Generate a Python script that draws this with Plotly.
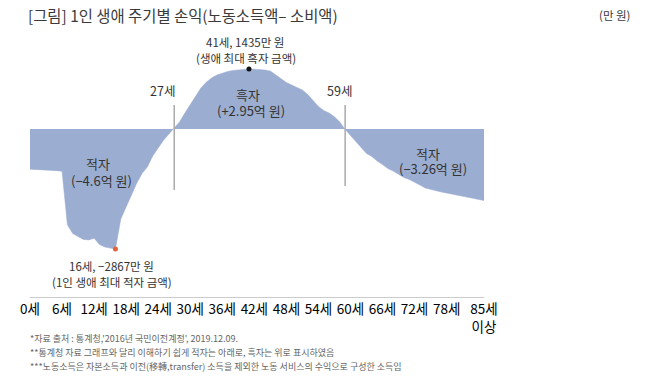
import plotly.graph_objects as go

# ---- data (만 원) ----
ages = list(range(0, 86))
net_income = [
    -960, -965, -970, -975, -985, -995, -1010, -2290, -2500, -2580,
    -2640, -2650, -2610, -2760, -2820, -2845, -2867, -2150, -1860, -1540,
    -1290, -1060, -900, -640, -440, -270, -120, 20, 170, 380,
    570, 790, 980, 1120, 1220, 1290, 1340, 1375, 1400, 1415,
    1425, 1435, 1430, 1425, 1410, 1385, 1290, 1195, 1110, 1050,
    990, 930, 825, 670, 540, 440, 380, 290, 170, -10,
    -155, -320, -455, -585, -655, -765, -850, -945, -1005, -1090,
    -1160, -1205, -1265, -1340, -1410, -1445, -1480, -1505, -1530, -1555,
    -1575, -1600, -1625, -1650, -1675, -1710,
]
tick_ages = [0, 6, 12, 18, 24, 30, 36, 42, 48, 54, 60, 66, 72, 78, 85]
tick_labels = ["0세", "6세", "12세", "18세", "24세", "30세", "36세", "42세", "48세",
               "54세", "60세", "66세", "72세", "78세", "85세<br>이상"]
max_age, max_val = 41, 1435
min_age, min_val = 16, -2867
cross_ages = [27, 59]

FONT = "Noto Sans CJK KR"
AREA = "#9badd0"

W, H = 650, 376
L, R, T, B = 30, 166, 60, 79
PW, PH = W - L - R, H - T - B

fig = go.Figure()
fig.add_trace(go.Scatter(x=ages, y=net_income, mode="lines", fill="tozeroy",
                         line=dict(color=AREA, width=0.5), fillcolor=AREA,
                         hoverinfo="skip", showlegend=False))
fig.add_trace(go.Scatter(x=[max_age], y=[max_val], mode="markers",
                         marker=dict(color="#111111", size=5), showlegend=False))
fig.add_trace(go.Scatter(x=[min_age], y=[min_val], mode="markers",
                         marker=dict(color="#e2623c", size=5), showlegend=False))

shapes = [
    dict(type="line", xref="x", yref="y", x0=cross_ages[0], x1=cross_ages[0],
         y0=-1460, y1=574, line=dict(color="#aaaaaa", width=1.5)),
    dict(type="line", xref="x", yref="y", x0=cross_ages[1], x1=cross_ages[1],
         y0=-1362, y1=574, line=dict(color="#aaaaaa", width=1.5)),
]


def px(xp, yp, text, size=11.5, color="#333333", xanchor="center"):
    return dict(x=(xp - L) / PW, y=1 - (yp - T) / PH, xref="paper", yref="paper",
                text=text, showarrow=False, xanchor=xanchor, yanchor="middle",
                font=dict(family=FONT, size=size, color=color))


annotations = [
    px(26, 15, "[그림] 1인 생애 주기별 손익(노동소득액– 소비액)", size=15.4, color="#3a3a3a", xanchor="left"),
    px(615, 15, "(만 원)", size=11.5, color="#3a3a3a"),
    px(245, 42, "41세, 1435만 원", size=11.5),
    px(246, 58, "(생애 최대 흑자 금액)", size=11.5),
    px(162, 90, "27세", size=12.5),
    px(339, 90, "59세", size=12.5),
    px(248, 94, "흑자", size=13),
    px(251, 110, "(+2.95억 원)", size=13),
    px(98, 163, "적자", size=13),
    px(101, 180, "(−4.6억 원)", size=13),
    px(428, 153, "적자", size=13),
    px(433, 168, "(−3.26억 원)", size=13),
    px(111, 266, "16세, −2867만 원", size=11.5),
    px(112, 282, "(1인 생애 최대 적자 금액)", size=11.5),
    px(28, 338, "*자료 출처 : 통계청,'2016년 국민이전계정', 2019.12.09.", size=9, color="#666666", xanchor="left"),
    px(28, 352, "**통계청 자료 그래프와 달리 이해하기 쉽게 적자는 아래로, 흑자는 위로 표시하였음", size=9, color="#666666", xanchor="left"),
    px(28, 366, "***노동소득은 자본소득과 이전(移轉,transfer) 소득을 제외한 노동 서비스의 수익으로 구성한 소득임", size=9, color="#666666", xanchor="left"),
]

fig.update_layout(
    width=W, height=H,
    margin=dict(l=L, r=R, t=T, b=B, autoexpand=False),
    paper_bgcolor="white", plot_bgcolor="white",
    shapes=shapes, annotations=annotations,
    showlegend=False,
    xaxis=dict(range=[0, 85], tickvals=tick_ages, ticktext=tick_labels,
               showgrid=False, zeroline=False, showline=True, automargin=False,
               linecolor="#cccccc", linewidth=1, ticks="",
               tickfont=dict(family=FONT, size=13.5, color="#000000"),
               fixedrange=True),
    yaxis=dict(range=[-4015, 1649], visible=False, showgrid=False,
               zeroline=False, fixedrange=True, automargin=False),
)

fig.write_html("out.html", config={"displayModeBar": False},
               post_script="document.body.style.margin='0';document.body.style.padding='0';")
